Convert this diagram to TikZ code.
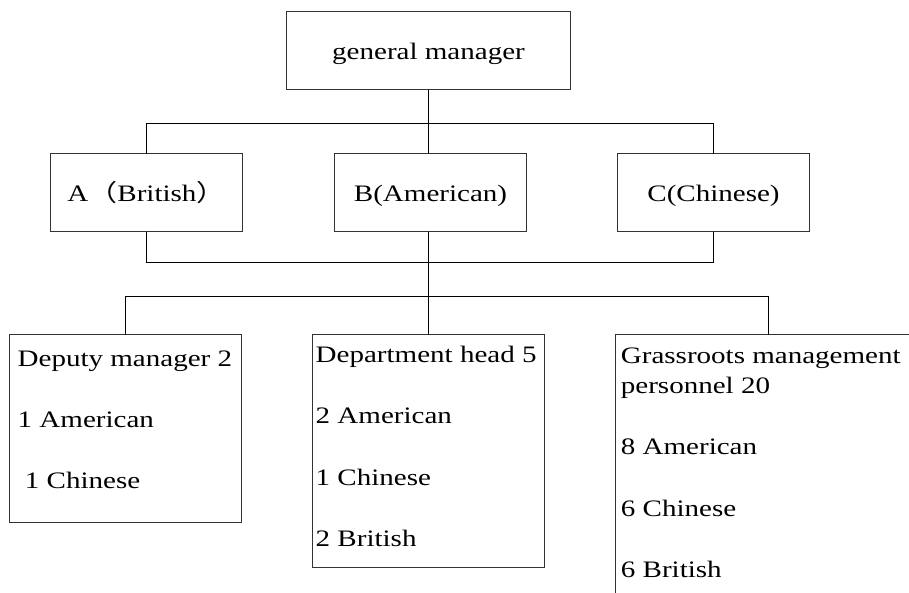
\documentclass[tikz,border=0pt]{standalone}
\usepackage{fontspec}
\setmainfont{Liberation Serif}[FakeStretch=1.23]
\newfontfamily\cjk{Noto Sans CJK SC}[FakeStretch=1.23]
\usetikzlibrary{calc}

\begin{document}
\begin{tikzpicture}[x=1pt, y=-1pt,
  box/.style={draw=black!80, line width=1pt, inner sep=0pt, outer sep=0pt, anchor=north west, text height=19pt, text depth=2pt},
  entry/.style={anchor=base west, inner sep=0pt},
  conn/.style={black, line width=1pt},
  font=\fontsize{23.6}{28}\selectfont]
\useasboundingbox (0,0) rectangle (909,592);
\clip (0,0) rectangle (909,592);

\node[box, minimum width=284pt, minimum height=78pt] (gm) at (286.5,11.5) {general manager};

\node[box, minimum width=192pt, minimum height=78pt] (A) at (50.5,153.5) {A{\cjk （}British{\cjk ）}};
\node[box, minimum width=192pt, minimum height=78pt] (B) at (334.5,153.5) {B(American)};
\node[box, minimum width=192pt, minimum height=78pt] (C) at (617.5,153.5) {C(Chinese)};

\node[box, minimum width=232pt, minimum height=188pt] (dep) at (9.5,334.5) {};
\node[box, minimum width=232pt, minimum height=233pt] (head) at (312.5,334.5) {};
\node[box, minimum width=306pt, minimum height=300pt] (grass) at (615.5,334.5) {};

% texts in the lower boxes
\node[entry] (dep1) at (17.5,366) {Deputy manager 2};
\node[entry] (dep2) at (17.5,427) {1 American};
\node[entry] (dep3) at (17.5,488) {\ 1 Chinese};

\node[entry] (head1) at (315.5,362) {Department head 5};
\node[entry] (head2) at (315.5,423.5) {2 American};
\node[entry] (head3) at (315.5,485) {1 Chinese};
\node[entry] (head4) at (315.5,546.5) {2 British};

\node[entry] (grass1) at (620.7,363) {Grassroots management};
\node[entry] (grass2) at (620.7,393) {personnel 20};
\node[entry] (grass3) at (620.7,454) {8 American};
\node[entry] (grass4) at (620.7,516) {6 Chinese};
\node[entry] (grass5) at (620.7,577) {6 British};

% connectors
\coordinate (top) at (428.5,123.5);
\coordinate (mid) at (428.5,262.5);
\coordinate (low) at (428.5,296.5);

\draw[conn] (gm.south) -- (top) -- (top |- B.north);
\draw[conn] (A.north) |- (top) -| (C.north);
\draw[conn] (A.south) |- (mid) -| (C.south);
\draw[conn] (mid |- B.south) -- (mid |- head.north);
\draw[conn] (dep.north) |- (low) -| (grass.north);
\end{tikzpicture}
\end{document}
